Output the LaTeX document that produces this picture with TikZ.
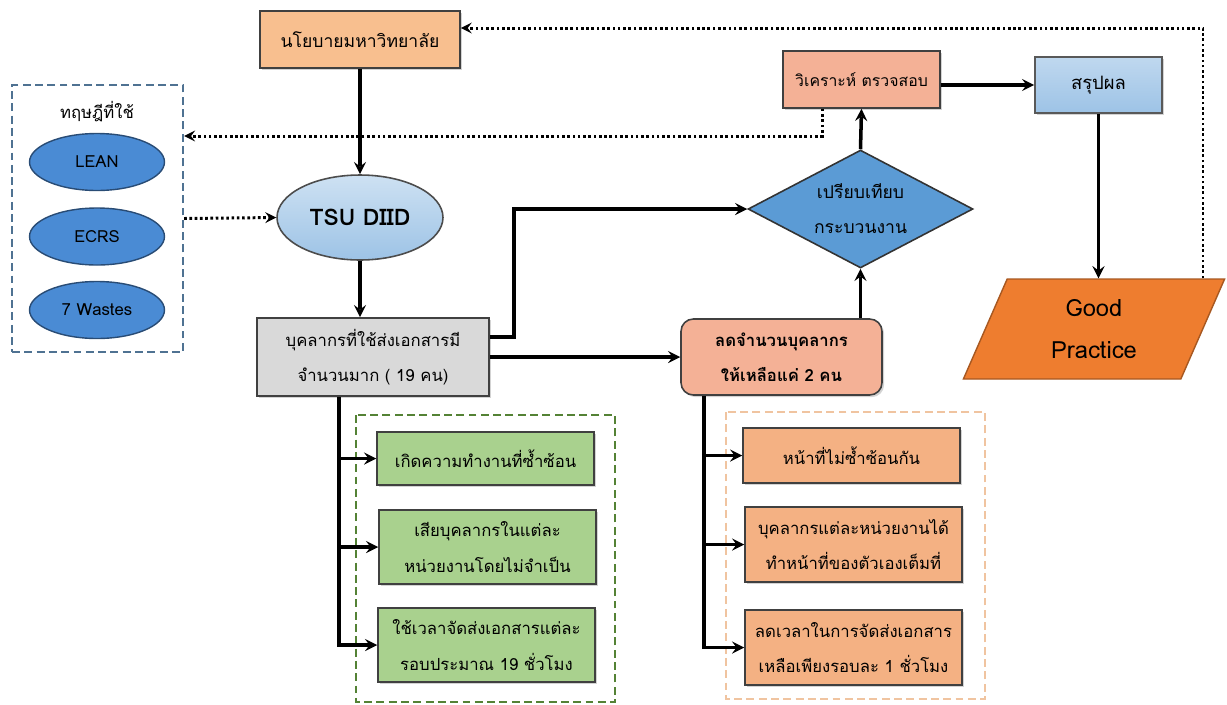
\documentclass[tikz,border=0pt]{standalone}
\usepackage{fontspec}
\setmainfont{Loma}[Script=Thai]
\usetikzlibrary{shapes.geometric,shadows,calc}
\tikzset{>=stealth}
\definecolor{policyfill}{HTML}{F8BF8F}
\definecolor{slateline}{HTML}{4F7292}
\definecolor{theoryfill}{HTML}{4A8BD4}
\definecolor{tsufill}{HTML}{BDD7EE}
\definecolor{greyfill}{HTML}{D9D9D9}
\definecolor{diamondfill}{HTML}{5B9BD5}
\definecolor{salmonfill}{HTML}{F4B196}
\definecolor{sumfill}{HTML}{9DC3E6}
\definecolor{gpfill}{HTML}{EE7D2F}
\definecolor{leafgreen}{HTML}{A9D18E}
\definecolor{darkleaf}{HTML}{548235}
\definecolor{peach}{HTML}{F4B183}
\definecolor{peachline}{HTML}{F0C4A0}
\tikzset{
  flow/.style={->,line width=2pt},
  dotflow/.style={->,line width=1.7pt,dash pattern=on 1.5pt off 1.5pt},
  softshadow/.style={drop shadow={shadow xshift=1.2pt,shadow yshift=-1.2pt,opacity=0.35}},
  card/.style={rectangle,draw=black!75,line width=0.9pt,inner sep=0pt,align=center,softshadow,
    font=\fontsize{9.5}{20}\selectfont},
  greencard/.style={card,fill=leafgreen,minimum width=4.34cm},
  peachcard/.style={card,fill=peach,minimum width=4.34cm},
  theory/.style={ellipse,draw=theoryfill!55!black,line width=0.8pt,fill=theoryfill,
    minimum width=2.7cm,minimum height=1.14cm,inner sep=0pt,font=\fontsize{9.5}{12}\selectfont},
  groupbox/.style={dash pattern=on 4.5pt off 2.5pt,line width=1.3pt}
}
\begin{document}
\begin{tikzpicture}[x=0.02cm,y=-0.02cm]
  \useasboundingbox (0,0) rectangle (1227,704);
  \node[card,fill=policyfill,minimum width=4cm,minimum height=1.14cm,font=\fontsize{10}{20}\selectfont] (pol) at (360,39.5) {นโยบายมหาวิทยาลัย};
  \node[rectangle,draw=slateline,groupbox,minimum width=3.42cm,minimum height=5.34cm] (thy) at (97.5,218.5) {};
  \node[font=\fontsize{9.5}{12}\selectfont] (thytitle) at (97,112) {ทฤษฎีที่ใช้};
  \node[theory] (lean) at (97,162) {LEAN};
  \node[theory] (ecrs) at (97,236.5) {ECRS};
  \node[theory] (waste) at (97,310) {7 Wastes};
  \node[ellipse,draw=black!70,line width=0.9pt,top color=tsufill!75,bottom color=sumfill,minimum width=3.32cm,
    minimum height=1.7cm,inner sep=0pt,font=\fontsize{13}{16}\selectfont\bfseries] (tsu) at (360,217.5) {TSU DIID};
  \node[card,fill=greyfill,minimum width=4.64cm,minimum height=1.56cm] (per) at (373,357) {บุคลากรที่ใช้ส่งเอกสารมี\\จำนวนมาก ( 19 คน)};
  \node[diamond,aspect=1.9,draw=black!80,line width=0.9pt,fill=diamondfill,minimum width=4.5cm,minimum height=2.36cm,
    inner sep=0pt,align=center,font=\fontsize{10}{20}\selectfont] (cmp) at (860.5,209) {เปรียบเทียบ\\กระบวนงาน};
  \node[card,fill=salmonfill,rounded corners=7pt,minimum width=4.02cm,minimum height=1.52cm,
    font=\fontsize{9.5}{20}\selectfont\bfseries] (red) at (781.5,357) {ลดจำนวนบุคลากร\\ให้เหลือแค่ 2 คน};
  \node[card,fill=salmonfill,minimum width=3.14cm,minimum height=1.14cm,font=\fontsize{9}{12}\selectfont] (ana) at (861.5,79.5) {วิเคราะห์ ตรวจสอบ};
  \node[card,top color=sumfill!65,bottom color=sumfill,draw=black!65,minimum width=2.54cm,minimum height=1.12cm,
    font=\fontsize{10.5}{12}\selectfont] (sum) at (1098.5,85) {สรุปผล};
  \node[trapezium,trapezium left angle=70,trapezium right angle=110,trapezium stretches=true,draw=gpfill!70!black,
    line width=0.8pt,fill=gpfill,minimum width=5.24cm,minimum height=2cm,inner sep=0pt,align=center,
    font=\fontsize{13.5}{24}\selectfont] (gp) at (1094,329) {Good\\Practice};
  \draw[darkleaf,groupbox] (356,415) rectangle (615,702);
  \node[greencard,minimum height=1.06cm] (g1) at (485.5,458.5) {เกิดความทำงานที่ซ้ำซ้อน};
  \node[greencard,minimum height=1.48cm] (g2) at (487.5,547) {เสียบุคลากรในแต่ละ\\หน่วยงานโดยไม่จำเป็น};
  \node[greencard,minimum height=1.48cm] (g3) at (486.5,645) {ใช้เวลาจัดส่งเอกสารแต่ละ\\รอบประมาณ 19 ชั่วโมง};
  \draw[peachline,groupbox] (726,412) rectangle (985,699);
  \node[peachcard,minimum height=1.1cm] (o1) at (851.5,455.5) {หน้าที่ไม่ซ้ำซ้อนกัน};
  \node[peachcard,minimum height=1.5cm] (o2) at (853.5,544.5) {บุคลากรแต่ละหน่วยงานได้\\ทำหน้าที่ของตัวเองเต็มที่};
  \node[peachcard,minimum height=1.5cm] (o3) at (853.5,647.5) {ลดเวลาในการจัดส่งเอกสาร\\เหลือเพียงรอบละ 1 ชั่วโมง};
  \draw[flow] (pol.south) -- (tsu.north);
  \draw[flow] (tsu.south) -- (tsu.south |- per.north);
  \draw[dotflow] (thy.east) -- (tsu.west);
  \draw[dotflow] ([xshift=-0.79cm]ana.south) |- ([yshift=1.65cm]thy.east);
  \draw[dotflow] ([xshift=2.18cm]gp.north) |- ([yshift=0.23cm]pol.east);
  \draw[flow] ([yshift=0.4cm]per.east) -- ++(0.48cm,0) |- (cmp.west);
  \draw[flow] (per.east) -- (red.west);
  \draw[flow] (cmp.south |- red.north) -- (cmp.south);
  \draw[flow] (cmp.north) -- (ana.south);
  \draw[flow] (ana.east |- sum.west) -- (sum.west);
  \draw[flow] (sum.south) -- (sum.south |- gp.north);
  \coordinate (pbr) at ([xshift=-0.68cm]per.south);
  \draw[flow] (pbr) |- (g3.west);
  \draw[flow] (pbr |- g1.west) -- (g1.west);
  \draw[flow] (pbr |- g2.west) -- (g2.west);
  \coordinate (rbr) at ([xshift=-1.55cm]red.south);
  \draw[flow] (rbr) |- (o3.west);
  \draw[flow] (rbr |- o1.west) -- (o1.west);
  \draw[flow] (rbr |- o2.west) -- (o2.west);
\end{tikzpicture}
\end{document}
